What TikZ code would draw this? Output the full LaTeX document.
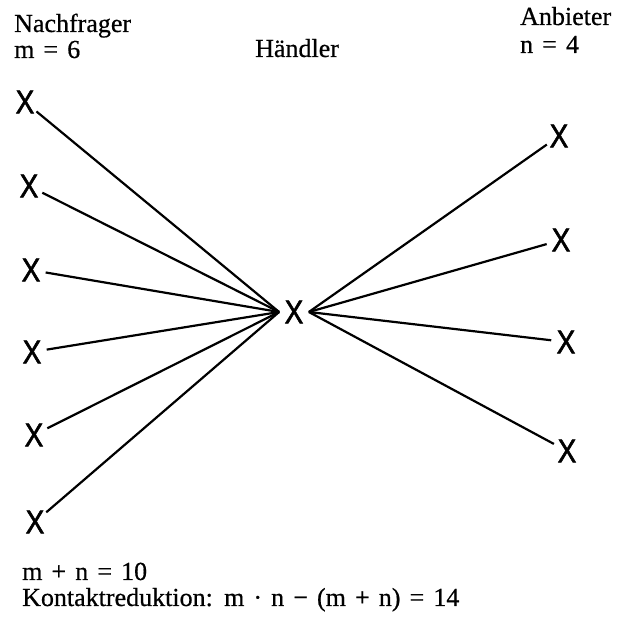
\documentclass[tikz,border=0pt]{standalone}
\usepackage{fontspec}
\setmainfont{Liberation Serif}[WordSpace=1.4, FakeBold=0.6]
\newfontfamily\kreuzfont{Liberation Sans}[FakeBold=1.6, FakeStretch=0.85]
\usetikzlibrary{calc}

\tikzset{
  kreuz/.style={circle, inner sep=0pt, font=\kreuzfont\fontsize{33}{33}\selectfont},
  beschr/.style={anchor=base west, inner sep=0pt, font=\fontsize{26}{28}\selectfont},
  kante/.style={line width=2.2pt}
}

\begin{document}
\begin{tikzpicture}[x=1pt,y=-1pt]
    \useasboundingbox (0,0) rectangle (633,617);
    \node[beschr] (nachfr) at (14,32) {Nachfrager};
    \node[beschr] (m) at (14,58) {m = 6};
    \node[beschr] (haendl) at (255,57) {Händler};
    \node[beschr] (anb) at (520,25) {Anbieter};
    \node[beschr] (n) at (520,53) {n = 4};
    \node[beschr] (summe) at (22,580) {m + n = 10};
    \node[beschr] (redukt) at (22,606) {Kontaktreduktion: m · n − (m + n) = 14};
    \node[kreuz] (h) at (294,312) {X};
    \foreach \i/\x/\y in {1/25/102, 2/29/186, 3/31/270, 4/32/352, 5/34/435, 6/35/522} {
      \node[kreuz] (l\i) at (\x,\y) {X};
      \draw[kante] (l\i) -- (h.west);
    }
    \foreach \i/\x/\y in {1/559/136, 2/561/240, 3/566/342, 4/567/451} {
      \node[kreuz] (r\i) at (\x,\y) {X};
      \draw[kante] (h.east) -- (r\i);
    }
  \end{tikzpicture}
\end{document}
